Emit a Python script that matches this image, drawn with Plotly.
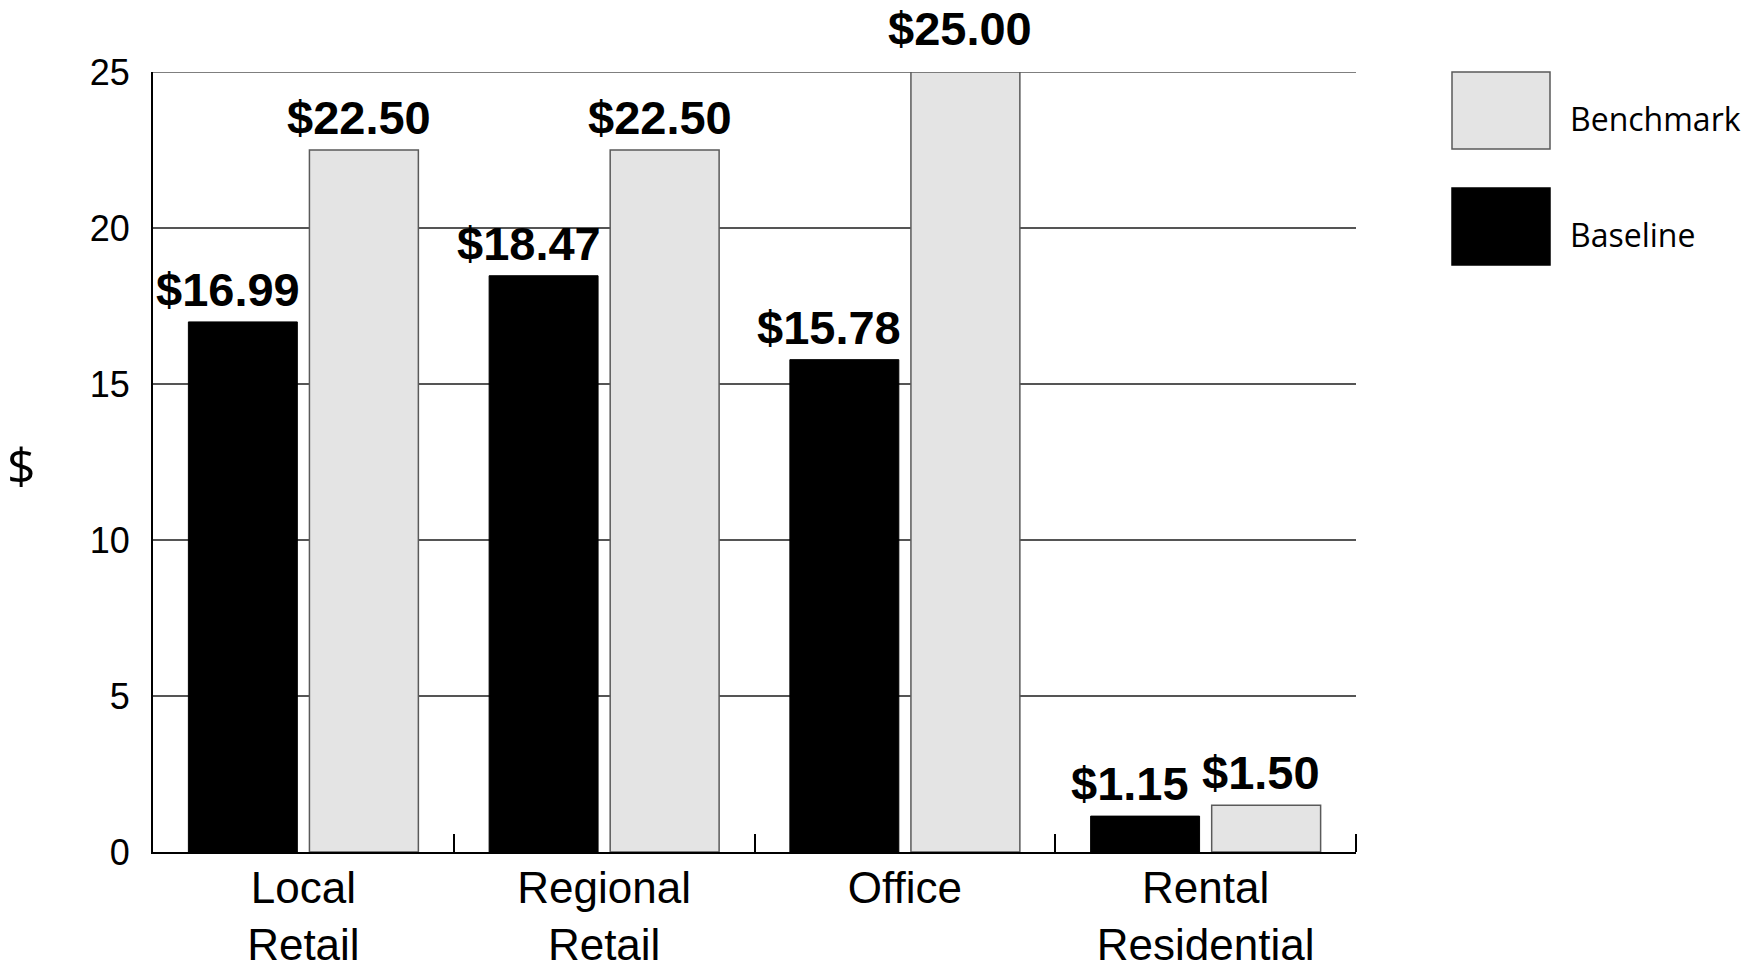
import plotly.graph_objects as go

categories = ["Local<br>Retail", "Regional<br>Retail", "Office", "Rental<br>Residential"]
baseline = [16.99, 18.47, 15.78, 1.15]
benchmark = [22.50, 22.50, 25.00, 1.50]
series_names = ["Baseline", "Benchmark"]
y_ticks = [0, 5, 10, 15, 20, 25]
y_max = 25

W, H = 1753, 970
L, R, T, B = 153, 397, 72, 118
PW, PH = W - L - R, H - T - B
BARGAP, GROUPGAP = 0.195, 0.1
slot_px = (1 - BARGAP) / 2 * PW / len(categories)

def money(v):
    return "<b>$%.2f</b>" % v

fig = go.Figure()
fig.add_trace(go.Bar(
    x=categories, y=baseline, name=series_names[0],
    marker=dict(color="#000000", line=dict(color="#000000", width=1)),
    showlegend=False, hoverinfo="x+y",
))
fig.add_trace(go.Bar(
    x=categories, y=benchmark, name=series_names[1],
    marker=dict(color="#e4e4e4", line=dict(color="#5a5a5a", width=1.5)),
    showlegend=False, hoverinfo="x+y",
))

# value labels above each bar, drawn over all bars
label_font = dict(family="Liberation Sans, Arial", size=47, color="black")
for values, side, nudge in ((baseline, -1, -15), (benchmark, 1, -5)):
    for cat, v in zip(categories, values):
        lift = 5 + (11 if v >= y_max else 0)  # labels at the top of the range sit a bit higher
        fig.add_annotation(x=cat, y=v, xref="x", yref="y", text=money(v), showarrow=False,
                           xanchor="center", yanchor="bottom", borderpad=0,
                           xshift=side * slot_px / 2 + nudge, yshift=lift, font=label_font)

fig.update_layout(
    width=W, height=H,
    margin=dict(l=L, r=R, t=T, b=B, pad=0, autoexpand=False),
    paper_bgcolor="white", plot_bgcolor="white",
    barmode="group", bargap=BARGAP, bargroupgap=GROUPGAP,
    font=dict(family="Liberation Sans, Arial", color="black"),
    xaxis=dict(
        type="category", showgrid=False, showline=True, linecolor="black", linewidth=2,
        ticks="inside", tickson="boundaries", ticklen=18, tickwidth=2, tickcolor="black",
        tickfont=dict(family="Liberation Sans, Arial", size=44, color="black"),
        ticklabelstandoff=-4, automargin=False, fixedrange=True,
    ),
    yaxis=dict(
        range=[0, y_max], tickvals=y_ticks, showgrid=True, gridcolor="#555555", gridwidth=1.5,
        showline=True, linecolor="black", linewidth=2, ticks="", zeroline=False,
        tickfont=dict(family="Liberation Sans, Arial", size=36, color="black"),
        ticklabelstandoff=14, automargin=False,
    ),
)

# gridline along the top of the value range
fig.add_shape(type="line", xref="paper", yref="y", x0=0, x1=1, y0=y_max, y1=y_max,
              line=dict(color="#555555", width=1.5), layer="below")
# closing tick at the right end of the category axis
fig.add_shape(type="line", xref="paper", yref="paper", x0=1, x1=1, y0=0, y1=18 / PH,
              line=dict(color="black", width=2))

# upright axis label
fig.add_annotation(xref="paper", yref="paper", x=(21 - L) / PW, y=1 - (465 - T) / PH,
                   text="$", showarrow=False, xanchor="center", yanchor="middle",
                   font=dict(family="Open Sans", size=50, color="black"))

# Legend drawn as large swatches with labels, top entry first
legend_items = [(series_names[1], "#e4e4e4", "#5a5a5a"), (series_names[0], "#000000", "#000000")]
px0, px1 = 1452, 1550
box_h = 77
tops = [72, 188]
for (name, fill, edge), top in zip(legend_items, tops):
    fig.add_shape(type="rect", xref="paper", yref="paper",
                  x0=(px0 - L) / PW, x1=(px1 - L) / PW,
                  y0=1 - (top + box_h - T) / PH, y1=1 - (top - T) / PH,
                  fillcolor=fill, line=dict(color=edge, width=1.5))
    fig.add_annotation(xref="paper", yref="paper",
                       x=(1568 - L) / PW, y=1 - (top + box_h / 2 + 8 - T) / PH,
                       text=name, showarrow=False, xanchor="left", yanchor="middle",
                       font=dict(family="Open Sans", size=32, color="black"))

fig.write_html("out.html")
